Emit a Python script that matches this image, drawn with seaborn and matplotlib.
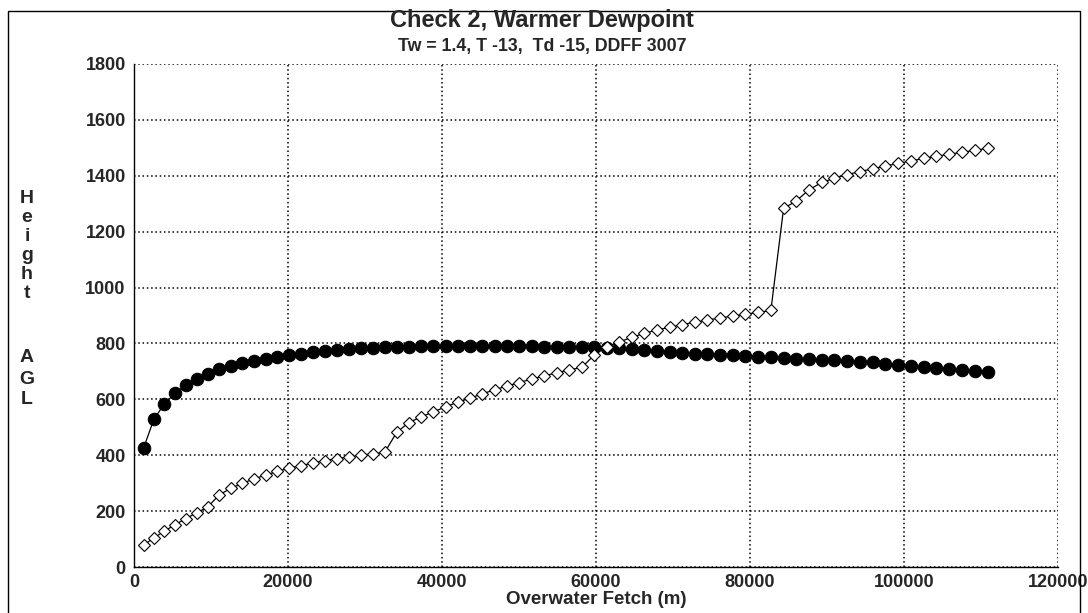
import numpy as np
import pandas as pd
import matplotlib
matplotlib.use("Agg")
import matplotlib.pyplot as plt
import seaborn as sns
from matplotlib.patches import Rectangle

# overwater fetch (m) of each model step, shared by both series
fetch = [1240, 2570, 3930, 5310, 6710, 8140, 9590, 11060, 12550, 14050,
         15560, 17080, 18600, 20130, 21670, 23210, 24760, 26310, 27870, 29430,
         30990, 32550, 34120, 35700, 37280, 38870, 40460, 42050, 43650, 45250,
         46850, 48450, 50060, 51670, 53280, 54900, 56520, 58140, 59760, 61390,
         63020, 64650, 66280, 67910, 69550, 71190, 72830, 74470, 76110, 77760,
         79410, 81060, 82710, 84360, 86010, 87660, 89310, 90960, 92610, 94260,
         95910, 97570, 99230, 100890, 102550, 104210, 105870, 107530, 109190, 110850]

# filled circles
height_a = [425, 528, 583, 621, 651, 674, 692, 707, 719, 729,
            738, 746, 752, 758, 763, 768, 772, 776, 779, 782,
            784, 786, 787, 789, 790, 791, 791, 792, 792, 792,
            791, 791, 790, 790, 789, 788, 788, 787, 786, 785,
            782, 779, 776, 773, 770, 767, 764, 762, 759, 757,
            755, 753, 751, 748, 746, 743, 741, 739, 737, 735,
            732, 728, 724, 720, 716, 712, 708, 705, 702, 699]

# open diamonds
height_b = [78, 104, 128, 151, 173, 194, 215, 258, 281, 299,
            315, 329, 342, 353, 363, 372, 381, 388, 394, 400,
            405, 410, 482, 517, 537, 555, 573, 590, 604, 620,
            634, 648, 660, 673, 684, 695, 705, 714, 758, 788,
            805, 822, 836, 848, 858, 867, 876, 884, 891, 898,
            905, 911, 918, 1283, 1310, 1350, 1376, 1391, 1404, 1415,
            1425, 1435, 1444, 1453, 1462, 1470, 1477, 1484, 1491, 1498]

x_ticks = [0, 20000, 40000, 60000, 80000, 100000, 120000]
y_ticks = [0, 200, 400, 600, 800, 1000, 1200, 1400, 1600, 1800]

df = pd.DataFrame({"fetch": fetch, "a": height_a, "b": height_b})

sns.set_style("white")
plt.rcParams["font.family"] = ["Liberation Sans", "DejaVu Sans"]
plt.rcParams["font.weight"] = "bold"

fig = plt.figure(figsize=(10.88, 6.13), dpi=100)
W, H = 1088, 613
ax = fig.add_axes([134 / W, 1 - 567 / H, (1058 - 134) / W, (567 - 64) / H])

sns.lineplot(data=df, x="fetch", y="a", ax=ax, color="black", linewidth=0.9,
             marker="o", markersize=9, markerfacecolor="black",
             markeredgecolor="black", zorder=3)
sns.lineplot(data=df, x="fetch", y="b", ax=ax, color="black", linewidth=0.9,
             marker="D", markersize=6.5, markerfacecolor="white",
             markeredgecolor="black", markeredgewidth=0.8, zorder=4)

ax.set_xlim(0, 120000)
ax.set_ylim(0, 1800)
ax.set_xticks(x_ticks)
ax.set_yticks(y_ticks)
ax.set_xticklabels([str(v) for v in x_ticks], fontsize=13, fontweight="bold")
ax.set_yticklabels([str(v) for v in y_ticks], fontsize=13, fontweight="bold")
ax.tick_params(direction="out", length=4, width=1, color="black", pad=2)
ax.tick_params(axis="x", pad=1)
ax.grid(True, linestyle=(0, (1, 1.8)), color="black", linewidth=1.1)

for s in ["top", "right"]:
    ax.spines[s].set_visible(False)
for s in ["left", "bottom"]:
    ax.spines[s].set_color("black")
    ax.spines[s].set_linewidth(1.0)

ax.set_xlabel("")
ax.set_ylabel("")
fig.text(596 / W, 1 - 600 / H, "Overwater Fetch (m)", ha="center", va="center",
         fontsize=13.5, fontweight="bold")

fig.text(542 / W, 1 - 21 / H, "Check 2, Warmer Dewpoint", ha="center", va="center",
         fontsize=17, fontweight="bold")
fig.text(542 / W, 1 - 46 / H, "Tw = 1.4, T -13,  Td -15, DDFF 3007", ha="center",
         va="center", fontsize=12.8, fontweight="bold")

# stacked y-axis title
for i, ch in enumerate("Height"):
    fig.text(27 / W, 1 - (198 + 19 * i) / H, ch, ha="center", va="center",
             fontsize=14, fontweight="bold")
for i, ch in enumerate("AGL"):
    fig.text(27 / W, 1 - (358 + 21 * i) / H, ch, ha="center", va="center",
             fontsize=14, fontweight="bold")

# outer chart frame
fig.patches.append(Rectangle((8 / W, -0.01), (1080 - 8) / W, 1 - 11 / H + 0.01,
                             transform=fig.transFigure, fill=False,
                             edgecolor="black", linewidth=1.0))

fig.savefig("out.png", dpi=100)
